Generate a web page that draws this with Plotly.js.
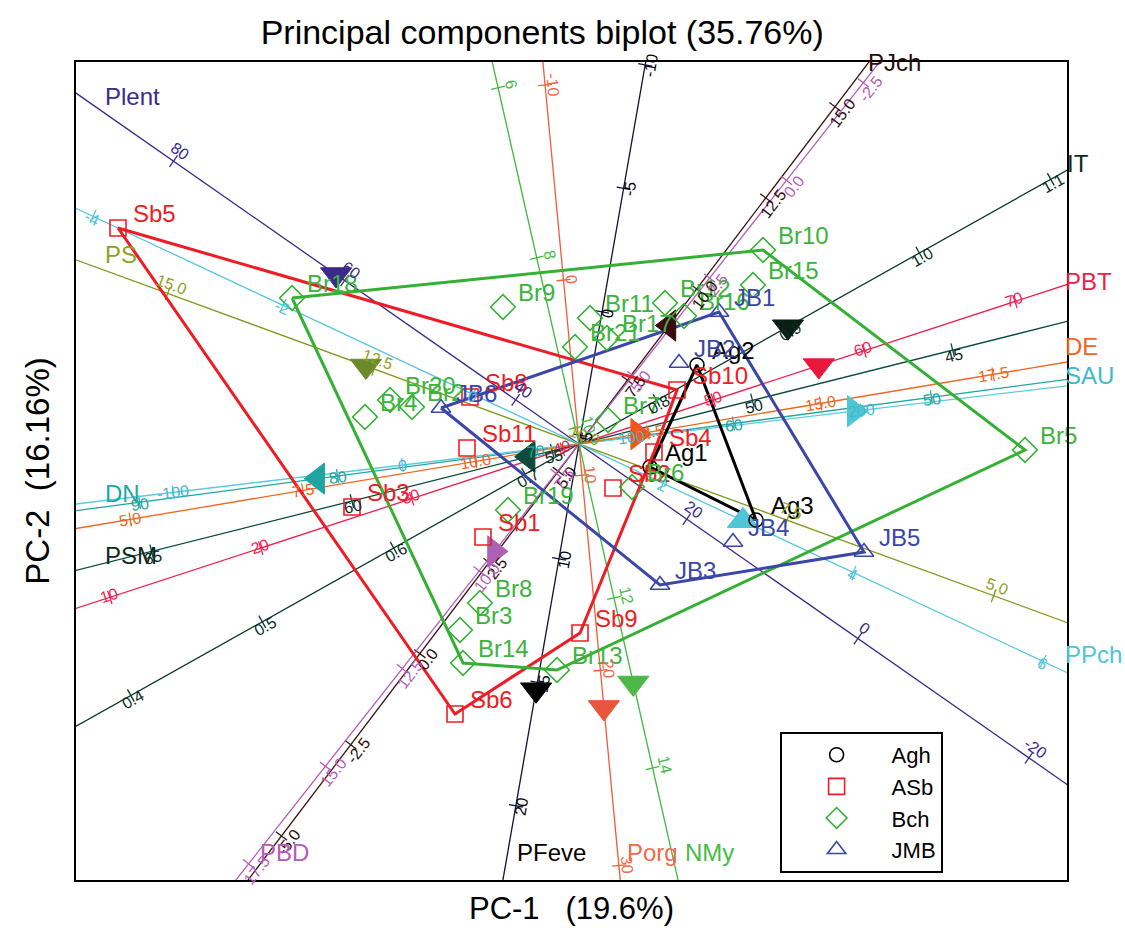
<!DOCTYPE html>
<html>
<head>
<meta charset="utf-8">
<script src="https://cdn.plot.ly/plotly-3.0.1.min.js"></script>
<style>
  html, body { margin: 0; padding: 0; background: #ffffff; }
  #chart { width: 1125px; height: 941px; }
</style>
</head>
<body>
<div id="chart"></div>
<script>
// ---- Sample scores (PC-1, PC-2) by group ----
const aghNames = ['Ag1', 'Ag2', 'Ag3'];
const aghPC1   = [0.71, 1.18, 1.77];
const aghPC2   = [-0.23, 0.79, -0.76];

const asbNames = ['Sb1', 'Sb2', 'Sb3', 'Sb4', 'Sb5', 'Sb6', 'Sb8', 'Sb9', 'Sb10', 'Sb11'];
const asbPC1   = [-0.96, 0.34, -2.27, 0.75, -4.61, -1.24, -1.09, 0.01, 0.98, -1.12];
const asbPC2   = [-0.93, -0.44, -0.63, -0.08, 2.16, -2.70, 0.47, -1.89, 0.54, -0.04];

const bchNames = ['Br2', 'Br3', 'Br4', 'Br5', 'Br6', 'Br7', 'Br8', 'Br9', 'Br10', 'Br11',
                  'Br12', 'Br13', 'Br14', 'Br15', 'Br16', 'Br17', 'Br18', 'Br19', 'Br20', 'Br21'];
const bchPC1   = [-1.67, -1.19, -2.14, 4.46, 0.53, 0.29, -0.99, -0.76, 1.84, 0.11,
                  0.86, -0.22, -1.16, 1.74, 1.05, 0.28, -2.87, -0.71, -1.89, -0.04];
const bchPC2   = [0.37, -1.86, 0.27, -0.06, -0.43, 0.24, -1.59, 1.37, 1.94, 1.26,
                  1.41, -2.26, -2.19, 1.59, 1.28, 1.06, 1.46, -0.66, 0.44, 0.97];

const jmbNames = ['JB1', 'JB2', 'JB3', 'JB4', 'JB5', 'JB6'];
const jmbPC1   = [1.40, 1.00, 0.81, 1.54, 2.85, -1.38];
const jmbPC2   = [1.32, 0.81, -1.41, -0.98, -1.08, 0.36];

// ---- Calibrated variable axes ----
const varNames     = ['Plent', 'PJch', 'PBD', 'IT', 'PBT', 'PSM', 'DN', 'SAU', 'DE', 'PS', 'PPch', 'PFeve', 'Porg', 'NMy'];
// direction of increasing values (degrees, counter-clockwise from PC-1)
const varAngle     = [145.1, 52.8, 231.8, 29.3, 18.1, 194.1, 187.55, 6.8, 9.54, 159.9, -25.1, -99.9, -84.6, -77.2];
// variable value at the biplot origin
const varAtOrigin  = [32.6, 5.75, 6.75, 0.741, 41.1, 54.33, 67.8, 77, 11.5, 10.02, 1.115, 5.35, 8.4, 10.19];
// biplot length of one unit of the variable
const varUnitLength = [0.1043, 0.4577, 0.497, 15.07, 0.1587, 0.413, 0.1997, 0.0231, 0.70, 0.8795, 1.049, 0.2507, 0.196, 0.872];
const varTicks = [
  [-20, 0, 20, 40, 60, 80],
  [-5, -2.5, 0, 2.5, 5, 7.5, 10, 12.5, 15],
  [-2.5, 0, 2.5, 5, 7.5, 10, 12.5, 15, 17.5],
  [0.4, 0.5, 0.6, 0.7, 0.8, 0.9, 1.0, 1.1],
  [10, 20, 30, 40, 50, 60, 70],
  [45, 50, 55, 60, 65],
  [50, 60, 70, 80, 90],
  [-100, 0, 100, 200],
  [5, 7.5, 10, 12.5, 15, 17.5],
  [5, 7.5, 10, 12.5, 15],
  [-4, -2, 0, 2, 4, 6],
  [-10, -5, 0, 5, 10, 15, 20],
  [-10, 0, 10, 20, 30],
  [6, 8, 10, 12, 14]
];
const varDecimals  = [0, 1, 1, 1, 0, 0, 0, 0, 1, 1, 0, 0, 0, 0];
// value marked by the solid triangle on each axis
const varMarker    = [61, 9.0, 9.5, 0.9, 57, 55.6, 81, 197, 12.35, 12.6, 2.84, 15.3, 21.9, 13.0];

// ---- Styling ----
const FONT = 'Liberation Sans, Arial, Helvetica, sans-serif';
const X0 = -5.03, X1 = 4.88, Y0 = -4.36, Y1 = 3.82;
const axisColors = ['#3b2a8c', '#3a1212', '#b45cb8', '#0b3a2a', '#ee1f4d', '#0c4a3c', '#1fa7a2',
                    '#5ccbe0', '#f26522', '#7f9a1c', '#55c6e0', '#12123a', '#f25a3c', '#3fb83f'];
const nameColors = ['#3b2a8c', '#2a0c0c', '#b45cb8', '#0b2a1e', '#ee1f4d', '#0b2a22', '#1fa7a2',
                    '#3fb9cc', '#f26522', '#8fa21c', '#4fc4dc', '#000000', '#f26a4a', '#46bc46'];
const triColors  = ['#3b2a8c', '#3a0c0c', '#b060b4', '#0a1f14', '#e8183c', '#0c4a3c', '#1fa5a0',
                    '#4fc6d6', '#f0551e', '#6b8a2c', '#4fc6d6', '#000000', '#e8553a', '#4cb848'];
const triSymbols = ['triangle-down', 'triangle-left', 'triangle-right', 'triangle-down', 'triangle-down',
                    'triangle-left', 'triangle-left', 'triangle-right', 'triangle-right', 'triangle-down',
                    'triangle-up', 'triangle-down', 'triangle-down', 'triangle-down'];
const tickSide   = [-12, -10, 10, -5, 2, 6, 2, 0, 0, -10, -2, 6, 8, 13];     // px, label offset from axis
const nameShift  = [[27, 3], [-3, 0], [22, -28], [-2, -7], [-4, -3], [27, -15], [27, -17],
                    [-4, -10], [-4, -15], [27, -5], [-4, -18], [12, -28], [5, -28], [5, -28]];

const groups = [
  {name: 'Agh', labels: aghNames, x: aghPC1, y: aghPC2, color: '#000000', text: '#000000', symbol: 'circle-open', size: 14},
  {name: 'ASb', labels: asbNames, x: asbPC1, y: asbPC2, color: '#ee1c25', text: '#ee1c25', symbol: 'square-open', size: 16},
  {name: 'Bch', labels: bchNames, x: bchPC1, y: bchPC2, color: '#35b035', text: '#3cb43c', symbol: 'diamond-open', size: 19},
  {name: 'JMB', labels: jmbNames, x: jmbPC1, y: jmbPC2, color: '#3a46a8', text: '#3a46a8', symbol: 'triangle-up-open', size: 17}
];

const rad = d => d * Math.PI / 180;
const px = v => v / 100;                     // screen pixels to plot units
const toPaperX = x => (x - X0) / (X1 - X0);
const toPaperY = y => (y - Y0) / (Y1 - Y0);

function axisPoint(i, v) {
  const a = rad(varAngle[i]);
  const d = (v - varAtOrigin[i]) * varUnitLength[i];
  return [d * Math.cos(a), d * Math.sin(a)];
}

function convexHull(xs, ys) {
  const p = xs.map((x, i) => [x, ys[i]]).sort((a, b) => a[0] - b[0] || a[1] - b[1]);
  const cross = (o, a, b) => (a[0] - o[0]) * (b[1] - o[1]) - (a[1] - o[1]) * (b[0] - o[0]);
  const lower = [];
  for (const q of p) {
    while (lower.length >= 2 && cross(lower[lower.length - 2], lower[lower.length - 1], q) <= 0) lower.pop();
    lower.push(q);
  }
  const upper = [];
  for (const q of p.slice().reverse()) {
    while (upper.length >= 2 && cross(upper[upper.length - 2], upper[upper.length - 1], q) <= 0) upper.pop();
    upper.push(q);
  }
  const h = lower.slice(0, -1).concat(upper.slice(0, -1));
  h.push(h[0]);
  return h;
}

const traces = [];
const annotations = [];

// axis lines and tick marks
varNames.forEach((name, i) => {
  const a = rad(varAngle[i]);
  const c = Math.cos(a), s = Math.sin(a);
  traces.push({
    type: 'scatter', mode: 'lines', x: [-20 * c, 20 * c], y: [-20 * s, 20 * s],
    line: {color: axisColors[i], width: 1.3}, hoverinfo: 'skip', showlegend: false
  });
  const tx = [], ty = [];
  const nx = -s, ny = c, half = px(7);
  let textAngle = varAngle[i];
  while (textAngle > 90) textAngle -= 180;
  while (textAngle <= -90) textAngle += 180;
  varTicks[i].forEach(v => {
    const [x, y] = axisPoint(i, v);
    tx.push(x - half * nx, x + half * nx, null);
    ty.push(y - half * ny, y + half * ny, null);
    const off = px(tickSide[i]);
    annotations.push({
      xref: 'paper', yref: 'paper', x: toPaperX(x + off * nx), y: toPaperY(y + off * ny),
      text: v.toFixed(varDecimals[i]), showarrow: false, textangle: -textAngle,
      font: {family: FONT, size: 16, color: nameColors[i]}, xanchor: 'center', yanchor: 'middle'
    });
  });
  traces.push({
    type: 'scatter', mode: 'lines', x: tx, y: ty,
    line: {color: axisColors[i], width: 1.3}, hoverinfo: 'skip', showlegend: false
  });

  // variable name where the axis leaves the plot (increasing end)
  const tX = c > 0 ? X1 / c : (c < 0 ? X0 / c : Infinity);
  const tY = s > 0 ? Y1 / s : (s < 0 ? Y0 / s : Infinity);
  const t = Math.min(tX, tY);
  const ex = t * c + px(nameShift[i][0]);
  const ey = t * s - px(nameShift[i][1]);
  annotations.push({
    xref: 'paper', yref: 'paper', x: toPaperX(ex), y: toPaperY(ey), text: name, showarrow: false,
    xanchor: 'left', yanchor: 'middle', font: {family: FONT, size: 24, color: nameColors[i]}
  });
});

// group hulls
groups.forEach(g => {
  const h = convexHull(g.x, g.y);
  traces.push({
    type: 'scatter', mode: 'lines', x: h.map(p => p[0]), y: h.map(p => p[1]),
    line: {color: g.color, width: 3}, hoverinfo: 'skip', showlegend: false
  });
});

// solid triangles on the variable axes
varNames.forEach((name, i) => {
  const [x, y] = axisPoint(i, varMarker[i]);
  traces.push({
    type: 'scatter', mode: 'markers', x: [x], y: [y], name: name,
    marker: {symbol: triSymbols[i], size: 27, color: triColors[i], line: {color: triColors[i], width: 1}},
    showlegend: false, hovertemplate: name + ': %{text}<extra></extra>', text: [String(varMarker[i])]
  });
});

// sample markers (these carry the legend) and their labels
groups.forEach(g => {
  traces.push({
    type: 'scatter', mode: 'markers', x: g.x, y: g.y, name: g.name, text: g.labels,
    marker: {symbol: g.symbol, size: g.size, color: g.color, line: {color: g.color, width: 1.6}},
    hovertemplate: '%{text}<extra>' + g.name + '</extra>'
  });
});
groups.forEach(g => {
  traces.push({
    type: 'scatter', mode: 'text', x: g.x.map(v => v + px(15)), y: g.y.map(v => v + px(12)),
    text: g.labels, textposition: 'middle right', cliponaxis: false,
    textfont: {family: FONT, size: 24, color: g.text}, hoverinfo: 'skip', showlegend: false
  });
});

const layout = {
  width: 1125, height: 941,
  margin: {l: 76, r: 58, t: 62, b: 61},
  paper_bgcolor: '#ffffff', plot_bgcolor: '#ffffff',
  font: {family: FONT, color: '#000000'},
  title: {
    text: 'Principal components biplot (35.76%)',
    font: {family: FONT, size: 34, color: '#000000'},
    x: 0.482, xanchor: 'center', y: 0.966, yanchor: 'middle'
  },
  xaxis: {
    range: [X0, X1], showgrid: false, zeroline: false, showticklabels: false, ticks: '',
    showline: true, mirror: true, linecolor: '#000000', linewidth: 2,
    title: {text: 'PC-1 \u00a0 (19.6%)', font: {family: FONT, size: 31, color: '#000000'}, standoff: 16}
  },
  yaxis: {
    range: [Y0, Y1], showgrid: false, zeroline: false, showticklabels: false, ticks: '',
    showline: true, mirror: true, linecolor: '#000000', linewidth: 2,
    title: {text: 'PC-2 \u00a0(16.16%)', font: {family: FONT, size: 33, color: '#000000'}, standoff: 14}
  },
  showlegend: true,
  legend: {
    x: 0.710, y: 0.181, xanchor: 'left', yanchor: 'top',
    bgcolor: '#ffffff', bordercolor: '#000000', borderwidth: 2,
    font: {family: FONT, size: 22, color: '#000000'}, itemwidth: 100, tracegroupgap: 0,
    entrywidth: 90
  },
  annotations: annotations
};

Plotly.newPlot('chart', traces, layout, {displayModeBar: false, responsive: false});
</script>
</body>
</html>
